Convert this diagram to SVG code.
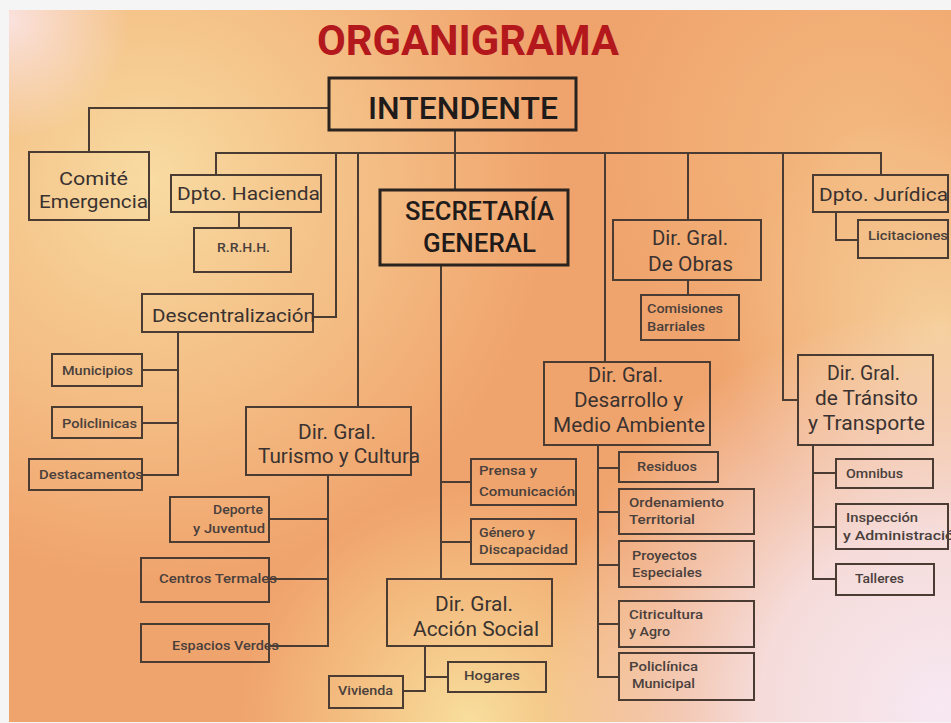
<svg xmlns="http://www.w3.org/2000/svg" width="951" height="723" viewBox="0 0 951 723">
<defs>
<radialGradient id="gY" cx="150" cy="180" r="400" gradientUnits="userSpaceOnUse">
<stop offset="0" stop-color="#f8dca2" stop-opacity="1"/>
<stop offset="0.55" stop-color="#f6cf94" stop-opacity="0.6"/>
<stop offset="1" stop-color="#f6cf94" stop-opacity="0"/>
</radialGradient>
<radialGradient id="gPk" cx="10" cy="20" r="120" gradientUnits="userSpaceOnUse">
<stop offset="0" stop-color="#fbe6e8" stop-opacity="0.9"/>
<stop offset="1" stop-color="#fbe6e8" stop-opacity="0"/>
</radialGradient>
<radialGradient id="gBR" cx="940" cy="710" r="400" gradientUnits="userSpaceOnUse">
<stop offset="0" stop-color="#f7e8f2" stop-opacity="1"/>
<stop offset="0.45" stop-color="#f6e2e6" stop-opacity="0.9"/>
<stop offset="1" stop-color="#f6e2e6" stop-opacity="0"/>
</radialGradient>
<radialGradient id="gBC" cx="470" cy="720" r="230" gradientUnits="userSpaceOnUse">
<stop offset="0" stop-color="#f8de9c" stop-opacity="1"/>
<stop offset="1" stop-color="#f7d893" stop-opacity="0"/>
</radialGradient>
<radialGradient id="gR" cx="940" cy="330" r="220" gradientUnits="userSpaceOnUse">
<stop offset="0" stop-color="#f6d39e" stop-opacity="0.9"/>
<stop offset="1" stop-color="#f6d39e" stop-opacity="0"/>
</radialGradient>
<radialGradient id="gTR" cx="860" cy="150" r="260" gradientUnits="userSpaceOnUse">
<stop offset="0" stop-color="#f4c287" stop-opacity="0.7"/>
<stop offset="1" stop-color="#f4c287" stop-opacity="0"/>
</radialGradient>
<style>
.bx{fill:none;stroke:#4a3b33;stroke-width:2}
.bt{fill:none;stroke:#2a2320;stroke-width:3}
.ln{fill:none;stroke:#4a3b33;stroke-width:2}
text{font-family:Roboto,"Liberation Sans",sans-serif;fill:#3a3230}
.lg{font-size:20px}
.md{font-size:19px}
.sm{font-size:12.5px;font-weight:500;fill:#4a403c}
.hd{font-weight:500;fill:#1f1b1a}
</style>
</defs>
<rect x="0" y="0" width="951" height="723" fill="#f5f5f5"/>
<rect x="9" y="10" width="942" height="712" fill="#f0a46d"/>
<rect x="9" y="10" width="942" height="712" fill="url(#gTR)"/>
<rect x="9" y="10" width="942" height="712" fill="url(#gR)"/>
<rect x="9" y="10" width="942" height="712" fill="url(#gY)"/>
<rect x="9" y="10" width="942" height="712" fill="url(#gBC)"/>
<rect x="9" y="10" width="942" height="712" fill="url(#gBR)"/>
<rect x="9" y="10" width="942" height="712" fill="url(#gPk)"/>

<text x="317" y="55" font-size="42" font-weight="700" style="fill:#b3181d" textLength="302" lengthAdjust="spacingAndGlyphs">ORGANIGRAMA</text>

<g id="connectors">
<path class="ln" d="M329,108 H89 V152"/>
<path class="ln" d="M455,130 V190"/>
<path class="ln" d="M216,175 V153 H881 V175"/>
<path class="ln" d="M336,153 V317 H313"/>
<path class="ln" d="M358,153 V407"/>
<path class="ln" d="M605,153 V362"/>
<path class="ln" d="M688,153 V220"/>
<path class="ln" d="M783,153 V400 H798"/>
<path class="ln" d="M239,212 V228"/>
<path class="ln" d="M836,212 V240 H858"/>
<path class="ln" d="M688,280 V295"/>
<path class="ln" d="M441,265 V579 M441,482 H471 M441,542 H471"/>
<path class="ln" d="M178,332 V475 H142 M178,370 H142 M178,423 H142"/>
<path class="ln" d="M328,475 V646 H269 M328,519 H269 M328,579 H269"/>
<path class="ln" d="M425,646 V691 H403 M425,677 H448"/>
<path class="ln" d="M598,445 V677 H619 M598,468 H619 M598,512 H619 M598,565 H619 M598,624 H619"/>
<path class="ln" d="M813,445 V579 H836 M813,473 H836 M813,527 H836"/>
</g>

<g id="intendente">
<rect class="bt" x="329" y="78" width="247" height="52"/>
<text class="hd" x="368" y="119" font-size="32" textLength="190" lengthAdjust="spacingAndGlyphs">INTENDENTE</text>
</g>
<g id="comite">
<rect class="bx" x="29" y="152" width="120" height="68"/>
<text class="md" x="59" y="185" textLength="69" lengthAdjust="spacingAndGlyphs">Comité</text>
<text class="md" x="39" y="208" textLength="109" lengthAdjust="spacingAndGlyphs">Emergencia</text>
</g>
<g id="hacienda">
<rect class="bx" x="171" y="175" width="150" height="37"/>
<text class="md" x="177" y="200" textLength="143" lengthAdjust="spacingAndGlyphs">Dpto. Hacienda</text>
</g>
<g id="rrhh">
<rect class="bx" x="194" y="228" width="97" height="44"/>
<text class="sm" x="217" y="252" font-size="11" textLength="53" lengthAdjust="spacingAndGlyphs">R.R.H.H.</text>
</g>
<g id="secretaria">
<rect class="bt" x="380" y="190" width="188" height="75"/>
<text class="hd" x="405" y="220" font-size="25" textLength="149" lengthAdjust="spacingAndGlyphs">SECRETARÍA</text>
<text class="hd" x="423" y="252" font-size="25" textLength="113" lengthAdjust="spacingAndGlyphs">GENERAL</text>
</g>
<g id="obras">
<rect class="bx" x="613" y="220" width="148" height="60"/>
<text class="lg" x="652" y="245" textLength="76" lengthAdjust="spacingAndGlyphs">Dir. Gral.</text>
<text class="lg" x="648" y="271" textLength="85" lengthAdjust="spacingAndGlyphs">De Obras</text>
</g>
<g id="comisiones">
<rect class="bx" x="641" y="295" width="98" height="45"/>
<text class="sm" x="647" y="313" textLength="76" lengthAdjust="spacingAndGlyphs">Comisiones</text>
<text class="sm" x="647" y="331" textLength="58" lengthAdjust="spacingAndGlyphs">Barriales</text>
</g>
<g id="juridica">
<rect class="bx" x="813" y="175" width="135" height="37"/>
<text class="md" x="819" y="201" textLength="129" lengthAdjust="spacingAndGlyphs">Dpto. Jurídica</text>
</g>
<g id="licitaciones">
<rect class="bx" x="858" y="220" width="90" height="38"/>
<text class="sm" x="868" y="240" textLength="80" lengthAdjust="spacingAndGlyphs">Licitaciones</text>
</g>
<g id="descentralizacion">
<rect class="bx" x="142" y="294" width="171" height="38"/>
<text class="md" x="152" y="322" textLength="163" lengthAdjust="spacingAndGlyphs">Descentralización</text>
</g>
<g id="municipios">
<rect class="bx" x="52" y="354" width="90" height="32"/>
<text class="sm" x="62" y="375" textLength="71" lengthAdjust="spacingAndGlyphs">Municipios</text>
</g>
<g id="policlinicas">
<rect class="bx" x="52" y="407" width="90" height="31"/>
<text class="sm" x="62" y="428" textLength="75" lengthAdjust="spacingAndGlyphs">Policlinicas</text>
</g>
<g id="destacamentos">
<rect class="bx" x="29" y="459" width="113" height="31"/>
<text class="sm" x="39" y="479" textLength="104" lengthAdjust="spacingAndGlyphs">Destacamentos</text>
</g>
<g id="turismo">
<rect class="bx" x="246" y="407" width="165" height="68"/>
<text class="lg" x="298" y="439" textLength="78" lengthAdjust="spacingAndGlyphs">Dir. Gral.</text>
<text class="lg" x="258" y="463" textLength="162" lengthAdjust="spacingAndGlyphs">Turismo y Cultura</text>
</g>
<g id="deporte">
<rect class="bx" x="170" y="497" width="99" height="45"/>
<text class="sm" x="213" y="514" textLength="50" lengthAdjust="spacingAndGlyphs">Deporte</text>
<text class="sm" x="193" y="533" textLength="72" lengthAdjust="spacingAndGlyphs">y Juventud</text>
</g>
<g id="centros">
<rect class="bx" x="141" y="558" width="128" height="44"/>
<text class="sm" x="159" y="583" textLength="118" lengthAdjust="spacingAndGlyphs">Centros Termales</text>
</g>
<g id="espacios">
<rect class="bx" x="141" y="624" width="128" height="38"/>
<text class="sm" x="172" y="650" textLength="107" lengthAdjust="spacingAndGlyphs">Espacios Verdes</text>
</g>
<g id="accion">
<rect class="bx" x="387" y="579" width="165" height="67"/>
<text class="lg" x="435" y="611" textLength="78" lengthAdjust="spacingAndGlyphs">Dir. Gral.</text>
<text class="lg" x="413" y="636" textLength="126" lengthAdjust="spacingAndGlyphs">Acción Social</text>
</g>
<g id="vivienda">
<rect class="bx" x="329" y="676" width="74" height="32"/>
<text class="sm" x="338" y="695" textLength="55" lengthAdjust="spacingAndGlyphs">Vivienda</text>
</g>
<g id="hogares">
<rect class="bx" x="448" y="662" width="98" height="30"/>
<text class="sm" x="464" y="680" textLength="56" lengthAdjust="spacingAndGlyphs">Hogares</text>
</g>
<g id="prensa">
<rect class="bx" x="471" y="459" width="105" height="46"/>
<text class="sm" x="479" y="475" textLength="58" lengthAdjust="spacingAndGlyphs">Prensa y</text>
<text class="sm" x="479" y="496" textLength="96" lengthAdjust="spacingAndGlyphs">Comunicación</text>
</g>
<g id="genero">
<rect class="bx" x="471" y="519" width="105" height="45"/>
<text class="sm" x="479" y="537" textLength="56" lengthAdjust="spacingAndGlyphs">Género y</text>
<text class="sm" x="479" y="554" textLength="89" lengthAdjust="spacingAndGlyphs">Discapacidad</text>
</g>
<g id="desarrollo">
<rect class="bx" x="544" y="362" width="166" height="83"/>
<text class="lg" x="588" y="382" textLength="75" lengthAdjust="spacingAndGlyphs">Dir. Gral.</text>
<text class="lg" x="574" y="407" textLength="109" lengthAdjust="spacingAndGlyphs">Desarrollo y</text>
<text class="lg" x="553" y="432" textLength="152" lengthAdjust="spacingAndGlyphs">Medio Ambiente</text>
</g>
<g id="residuos">
<rect class="bx" x="619" y="452" width="99" height="30"/>
<text class="sm" x="637" y="471" textLength="60" lengthAdjust="spacingAndGlyphs">Residuos</text>
</g>
<g id="ordenamiento">
<rect class="bx" x="619" y="489" width="135" height="45"/>
<text class="sm" x="629" y="507" textLength="95" lengthAdjust="spacingAndGlyphs">Ordenamiento</text>
<text class="sm" x="629" y="524" textLength="66" lengthAdjust="spacingAndGlyphs">Territorial</text>
</g>
<g id="proyectos">
<rect class="bx" x="619" y="541" width="135" height="46"/>
<text class="sm" x="632" y="560" textLength="65" lengthAdjust="spacingAndGlyphs">Proyectos</text>
<text class="sm" x="632" y="577" textLength="70" lengthAdjust="spacingAndGlyphs">Especiales</text>
</g>
<g id="citricultura">
<rect class="bx" x="619" y="601" width="135" height="46"/>
<text class="sm" x="629" y="619" textLength="74" lengthAdjust="spacingAndGlyphs">Citricultura</text>
<text class="sm" x="629" y="636" textLength="41" lengthAdjust="spacingAndGlyphs">y Agro</text>
</g>
<g id="policlinica">
<rect class="bx" x="619" y="653" width="135" height="47"/>
<text class="sm" x="629" y="671" textLength="69" lengthAdjust="spacingAndGlyphs">Policlínica</text>
<text class="sm" x="632" y="688" textLength="63" lengthAdjust="spacingAndGlyphs">Municipal</text>
</g>
<g id="transito">
<rect class="bx" x="798" y="355" width="135" height="90"/>
<text class="lg" x="827" y="380" textLength="73" lengthAdjust="spacingAndGlyphs">Dir. Gral.</text>
<text class="lg" x="815" y="405" textLength="103" lengthAdjust="spacingAndGlyphs">de Tránsito</text>
<text class="lg" x="808" y="430" textLength="117" lengthAdjust="spacingAndGlyphs">y Transporte</text>
</g>
<g id="omnibus">
<rect class="bx" x="836" y="459" width="97" height="29"/>
<text class="sm" x="846" y="478" textLength="57" lengthAdjust="spacingAndGlyphs">Omnibus</text>
</g>
<g id="inspeccion">
<rect class="bx" x="836" y="504" width="112" height="45"/>
<text class="sm" x="846" y="522" textLength="72" lengthAdjust="spacingAndGlyphs">Inspección</text>
<text class="sm" x="843" y="540" textLength="120" lengthAdjust="spacingAndGlyphs">y Administración</text>
</g>
<g id="talleres">
<rect class="bx" x="836" y="564" width="98" height="31"/>
<text class="sm" x="855" y="583" textLength="49" lengthAdjust="spacingAndGlyphs">Talleres</text>
</g>
</svg>
